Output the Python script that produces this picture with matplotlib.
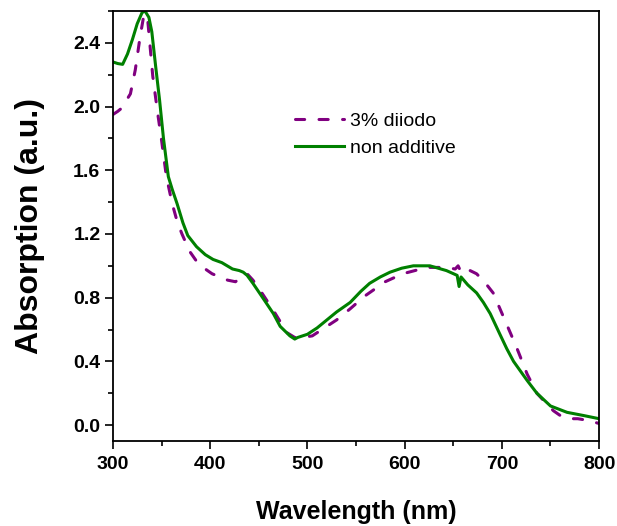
import numpy as np
import matplotlib.pyplot as plt
from matplotlib.ticker import MultipleLocator

plt.rcParams['font.family'] = ['Liberation Sans', 'DejaVu Sans']

# non additive film (green, solid)
wl_na = [300, 305, 310, 315, 320, 325, 330, 333, 337, 340, 344, 348, 352, 357,
         361, 366, 372, 377, 386, 395, 403, 412, 423, 430, 434, 438, 444, 454, 465,
         472, 482, 487, 490, 500, 510, 520, 530, 544, 555, 564, 575, 585, 597, 609,
         626, 643, 654, 656, 658, 665, 674, 681, 688, 698, 705, 712, 726, 736, 750,
         767, 784, 800]
abs_na = [2.28, 2.27, 2.265, 2.33, 2.42, 2.52, 2.59, 2.60, 2.56, 2.47, 2.25, 2.04,
          1.80, 1.56, 1.48, 1.39, 1.27, 1.19, 1.12, 1.07, 1.04, 1.02, 0.98, 0.97,
          0.96, 0.94, 0.89, 0.80, 0.70, 0.62, 0.56, 0.54, 0.55, 0.57, 0.61, 0.66,
          0.71, 0.77, 0.84, 0.89, 0.93, 0.96, 0.985, 1.00, 1.00, 0.97, 0.94, 0.87,
          0.93, 0.88, 0.83, 0.77, 0.70, 0.57, 0.48, 0.40, 0.28, 0.20, 0.12, 0.08,
          0.06, 0.04]

# 3% diiodo film (purple, dashed)
wl_di = [300, 305, 309, 313, 318, 323, 328, 332, 336, 341, 346, 350, 355, 361,
         366, 371, 379, 387, 395, 402, 410, 418, 426, 433, 438, 444, 451, 465, 479,
         487, 495, 505, 520, 530, 544, 559, 580, 598, 623, 643, 652, 655, 658,
         664, 674, 682, 691, 703, 715, 726, 736, 745, 753, 760, 768, 778, 788, 800]
abs_di = [1.95, 1.97, 1.99, 2.03, 2.08, 2.23, 2.44, 2.58, 2.53, 2.19, 1.96, 1.79,
          1.56, 1.39, 1.28, 1.20, 1.09, 1.02, 0.98, 0.95, 0.93, 0.91, 0.90, 0.93,
          0.95, 0.91, 0.85, 0.72, 0.58, 0.55, 0.55, 0.56, 0.62, 0.66, 0.73, 0.81,
          0.90, 0.95, 0.99, 0.99, 0.98, 1.00, 0.96, 0.98, 0.95, 0.90, 0.83, 0.66,
          0.49, 0.32, 0.20, 0.14, 0.09, 0.06, 0.04, 0.04, 0.03, 0.01]

fig = plt.figure(figsize=(6.17, 5.26), dpi=100)
ax = fig.add_axes([0.183, 0.1616, 0.788, 0.8175])

ax.plot(wl_di, abs_di, color='#800080', lw=2.2, dashes=(3, 4.7),
        dash_capstyle='round', dash_joinstyle='round', label='3% diiodo')
ax.plot(wl_na, abs_na, color='#008000', lw=2.2, solid_joinstyle='round',
        label='non additive')

ax.set_xlim(300, 800)
ax.set_ylim(-0.1, 2.6)
ax.xaxis.set_major_locator(MultipleLocator(100))
ax.xaxis.set_minor_locator(MultipleLocator(50))
ax.yaxis.set_major_locator(MultipleLocator(0.4))
ax.yaxis.set_minor_locator(MultipleLocator(0.2))
ax.yaxis.set_major_formatter(plt.FormatStrFormatter('%.1f'))

ax.tick_params(which='major', direction='out', length=6, width=1.2, labelsize=14, pad=5)
ax.tick_params(which='minor', direction='out', length=3.5, width=1.2)
ax.tick_params(axis='y', pad=3)
for lab in ax.get_xticklabels() + ax.get_yticklabels():
    lab.set_fontweight('bold')
for sp in ax.spines.values():
    sp.set_linewidth(1.3)

ax.set_xlabel('Wavelength (nm)', fontsize=18, fontweight='bold', labelpad=19)
ax.set_ylabel('Absorption (a.u.)', fontsize=23, fontweight='bold', labelpad=20)

ax.legend(loc='upper left', bbox_to_anchor=(0.375, 0.765), frameon=False, fontsize=14,
          handlelength=2.5, handletextpad=0.3, labelspacing=0.5, borderpad=0,
          borderaxespad=0)

fig.savefig('out.png', dpi=100)
